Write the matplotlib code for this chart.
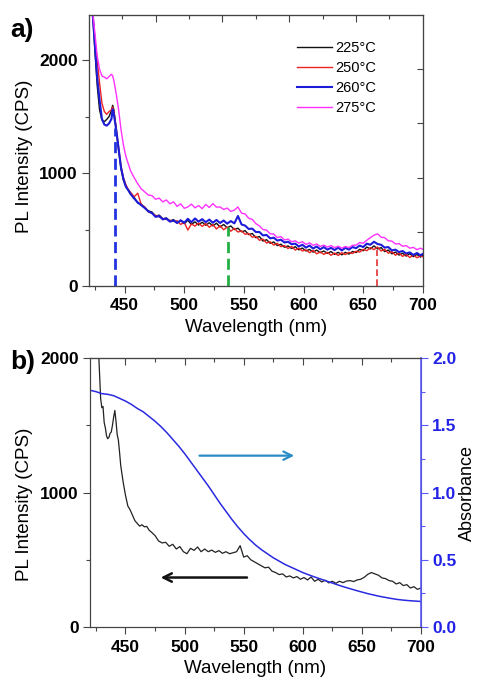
import matplotlib
matplotlib.use("Agg")
import matplotlib.pyplot as plt
from matplotlib.ticker import FixedLocator, FormatStrFormatter

plt.rcParams['font.family'] = ['Liberation Sans', 'DejaVu Sans']

# ---------------- Panel a data ----------------
wl_a = [423, 425, 427, 429, 431, 433, 435, 437, 439, 440,
        441, 443, 445, 447, 449, 451, 453, 455, 458, 461,
        464, 467, 470,
        473, 476, 479, 482, 485, 488, 491, 494, 497, 500,
        503, 506, 509, 512, 515, 518, 521, 524, 527, 530,
        533, 536, 539, 542, 545, 548, 551, 554, 557, 560,
        563, 566, 569, 572, 575, 578, 581, 584, 587, 590,
        593, 596, 599, 602, 605, 608, 611, 614, 617, 620,
        623, 626, 629, 632, 635, 638, 641, 644, 647, 650,
        653, 656, 659, 662, 665, 668, 671, 674, 677, 680,
        683, 686, 689, 692, 695, 698, 700]

pl_225 = [2450, 2100, 1780, 1560, 1470, 1455, 1475, 1500, 1555, 1600,
          1560, 1380, 1200, 1035, 935, 885, 850, 815, 785, 735,
          725, 690, 665,
          655, 618, 628, 595, 602, 575, 588, 558, 580, 552,
          582, 545, 568, 540, 565, 538, 560, 532, 556, 522,
          545, 515, 532, 500, 512, 480, 490, 455, 465, 428,
          438, 398, 410, 378, 390, 358, 370, 343, 355, 332,
          348, 320, 336, 310, 324, 300, 318, 295, 310, 288,
          305, 280, 298, 276, 298, 282, 306, 296, 325, 312,
          345, 328, 355, 328, 340, 305, 318, 285, 300, 274,
          290, 265, 286, 260, 280, 256, 275]

pl_250 = [2450, 2200, 2000, 1800, 1620, 1545, 1520, 1545, 1560, 1585,
          1545, 1400, 1225, 1060, 960, 900, 855, 830, 790, 822,
          720, 700, 655,
          645, 625, 612, 598, 590, 582, 572, 578, 545, 565,
          495, 550, 530, 558, 528, 552, 520, 545, 505, 535,
          498, 522, 485, 510, 478, 488, 458, 465, 432, 440,
          405, 415, 380, 392, 362, 378, 348, 358, 332, 350,
          318, 335, 310, 320, 295, 315, 285, 302, 280, 298,
          272, 292, 270, 295, 278, 298, 288, 308, 300, 325,
          312, 340, 322, 345, 310, 325, 290, 305, 272, 292,
          262, 280, 252, 275, 250, 268, 258]

pl_260 = [2450, 2150, 1850, 1650, 1480, 1430, 1420, 1440, 1480, 1565,
          1520, 1380, 1215, 1050, 950, 880, 850, 815, 775, 740,
          715, 690, 660,
          645, 612, 620, 590, 598, 570, 580, 558, 582, 560,
          595, 565, 598, 570, 592, 565, 588, 560, 585, 558,
          580, 552, 575, 555, 620, 545, 535, 505, 508, 478,
          478, 448, 452, 422, 428, 402, 410, 385, 392, 370,
          375, 350, 365, 340, 358, 332, 350, 325, 345, 322,
          338, 318, 340, 315, 338, 322, 345, 335, 358, 345,
          375, 365, 392, 372, 365, 340, 345, 315, 322, 300,
          310, 288, 298, 275, 292, 272, 285]

pl_275 = [2450, 2250, 2040, 1920, 1860, 1850, 1835, 1855, 1875, 1860,
          1820, 1700, 1560, 1385, 1250, 1150, 1085, 1020, 960, 905,
          860, 832, 805,
          800, 768, 778, 745, 762, 728, 745, 705, 728, 688,
          700, 725, 692, 712, 685, 722, 695, 730, 698, 700,
          678, 690, 660, 672, 700, 645, 638, 600, 590, 552,
          532, 500, 495, 462, 460, 428, 438, 408, 415, 392,
          400, 380, 392, 368, 382, 360, 372, 350, 362, 345,
          358, 340, 352, 335, 350, 340, 360, 362, 385, 378,
          405, 428, 450, 462, 432, 428, 400, 398, 372, 375,
          352, 358, 335, 342, 322, 335, 325]

labels_a = ['225°C', '250°C', '260°C', '275°C']
series_a = [pl_225, pl_250, pl_260, pl_275]
colors_a = ['#111111', '#ee2222', '#1c1cd8', '#ff30ff']
widths_a = [1.0, 1.0, 1.5, 1.0]

peak_wl = [441.6, 536.8, 661.5]
peak_top = [1400, 525, 318]
peak_colors = ['#2233e0', '#22b044', '#e03333']
peak_widths = [2.0, 2.0, 1.2]

# ---------------- Panel b data ----------------
wl_b = [427, 428, 429, 430, 431, 432, 433, 434, 435, 436,
        437, 438, 439, 440, 441, 442, 443, 444, 445, 446,
        447, 448, 449, 450, 452, 454, 456, 458, 460, 462,
        464, 466, 468, 470, 472,
        475, 478, 481, 484, 487, 490, 493, 496, 499, 502,
        505, 508, 511, 514, 517, 520, 523, 526, 529, 532,
        535, 538, 541, 544, 547, 550, 553, 556, 559, 562,
        565, 568, 571, 574, 577, 580, 583, 586, 589, 592,
        595, 598, 601, 604, 607, 610, 613, 616, 619, 622,
        625, 628, 631, 634, 637, 640, 643, 646, 649, 652,
        655, 658, 661, 664, 667, 670, 673, 676, 679, 682,
        685, 688, 691, 694, 697, 700]

pl_b = [2100, 1900, 1700, 1630, 1640, 1520, 1480, 1420, 1400, 1410,
        1440, 1450, 1500, 1560, 1610, 1530, 1430, 1390, 1300, 1200,
        1140, 1080, 1030, 980, 900, 870, 830, 790, 770, 750,
        760, 745, 748, 720, 705,
        680, 640, 625, 630, 600, 615, 580, 598, 560, 545,
        585, 570, 595, 560, 580, 560, 572, 555, 568, 548,
        560, 545, 552, 560, 605, 520, 530, 500, 485, 470,
        455, 440, 445, 415, 405, 390, 395, 372, 380, 365,
        375, 355, 368, 350, 372, 340, 355, 335, 348, 328,
        340, 325, 340, 330, 342, 345, 338, 350, 355, 370,
        392, 405, 395, 385, 365, 360, 345, 340, 320, 330,
        308, 315, 290, 300, 280, 290]

wl_abs = [420, 425, 430, 435, 440, 445, 450, 455, 460, 465,
          470, 475, 480, 485, 490, 495, 500, 505, 510, 515,
          520, 525, 530, 535, 540, 545, 550, 555, 560, 565,
          570, 575, 580, 585, 590, 595, 600, 605, 610, 615,
          620, 625, 630, 635, 640, 645, 650, 655, 660, 665,
          670, 675, 680, 685, 690, 695, 700]

absorb = [1.76, 1.75, 1.735, 1.73, 1.72, 1.70, 1.68, 1.655, 1.625, 1.60,
          1.565, 1.53, 1.49, 1.445, 1.395, 1.345, 1.29, 1.23, 1.17, 1.11,
          1.05, 0.985, 0.92, 0.86, 0.80, 0.745, 0.695, 0.65, 0.61, 0.575,
          0.545, 0.515, 0.49, 0.465, 0.445, 0.425, 0.405, 0.388, 0.372, 0.357,
          0.342, 0.327, 0.312, 0.298, 0.285, 0.272, 0.26, 0.248, 0.238, 0.228,
          0.22, 0.212, 0.205, 0.20, 0.196, 0.193, 0.19]

arrow_abs = [(512.6, 1.274), (592.7, 1.274)]   # start, end (right axis)
arrow_pl = [(552.8, 368), (479.8, 368)]        # start, end (left axis)

# ---------------- Styling helpers ----------------
TICK_FS = 12.5
LABEL_FS = 13.5
SPINE_C = '#444444'
BLUE_AX = '#2323e8'

fig = plt.figure(figsize=(4.8, 6.87), dpi=100)


def style_spines(a):
    for s in a.spines.values():
        s.set_color(SPINE_C)
        s.set_linewidth(0.8)


# ---------------- Panel a ----------------
ax = fig.add_axes([0.185, 0.5837, 0.696, 0.3945])
for y, lab, c, w in zip(series_a, labels_a, colors_a, widths_a):
    ax.plot(wl_a, y, color=c, lw=w, label=lab)
for x, top, c, w in zip(peak_wl, peak_top, peak_colors, peak_widths):
    ax.plot([x, x], [0, top], color=c, lw=w, ls=(0, (4, 2)))

ax.set_xlim(420, 700)
ax.set_ylim(0, 2400)
ax.xaxis.set_major_locator(FixedLocator([450, 500, 550, 600, 650, 700]))
ax.xaxis.set_minor_locator(FixedLocator([425, 475, 525, 575, 625, 675]))
ax.yaxis.set_major_locator(FixedLocator([0, 1000, 2000]))
ax.yaxis.set_minor_locator(FixedLocator([500, 1500]))
ax.tick_params(axis='both', which='major', direction='out', length=5, width=0.8,
               color=SPINE_C, labelsize=TICK_FS, pad=3)
ax.tick_params(axis='both', which='minor', direction='out', length=3, width=0.8,
               color=SPINE_C)
ax.tick_params(axis='x', which='major', pad=4)
for t in ax.get_xticklabels() + ax.get_yticklabels():
    t.set_fontweight('bold')
ax.set_xlabel('Wavelength (nm)', fontsize=LABEL_FS, labelpad=4)
ax.set_ylabel('PL Intensity (CPS)', fontsize=LABEL_FS)
ax.yaxis.set_label_coords(-0.168, 0.48)
style_spines(ax)

leg = ax.legend(loc='upper left', bbox_to_anchor=(0.623, 0.905), frameon=False,
                fontsize=10.5, handlelength=2.4, handletextpad=0.2,
                labelspacing=0.42, borderpad=0, borderaxespad=0)

ax_t = ax.twiny()
ax_t.set_xlim(0, 10)
ax_t.xaxis.set_major_locator(FixedLocator([2, 4, 6, 8]))
ax_t.xaxis.set_minor_locator(FixedLocator([1, 3, 5, 7, 9]))
ax_t.tick_params(axis='x', which='major', direction='in', length=5, width=0.8,
                 color=SPINE_C, labeltop=False)
ax_t.tick_params(axis='x', which='minor', direction='in', length=3, width=0.8,
                 color=SPINE_C)
style_spines(ax_t)

ax_r = ax.twinx()
ax_r.set_ylim(0, 2500)
ax_r.yaxis.set_major_locator(FixedLocator([500, 1000, 1500, 2000]))
ax_r.tick_params(axis='y', which='major', direction='in', length=4, width=0.8,
                 color=SPINE_C, labelright=False)
style_spines(ax_r)

fig.text(10 / 480, 1 - 30 / 687, 'a)', fontsize=19, fontweight='bold',
         ha='left', va='center')

# ---------------- Panel b ----------------
bx = fig.add_axes([0.1875, 0.0873, 0.6896, 0.3916])
bx.plot(wl_b, pl_b, color='#222222', lw=0.9)
bx.set_xlim(420, 700)
bx.set_ylim(0, 2000)
bx.xaxis.set_major_locator(FixedLocator([450, 500, 550, 600, 650, 700]))
bx.xaxis.set_minor_locator(FixedLocator([425, 475, 525, 575, 625, 675]))
bx.yaxis.set_major_locator(FixedLocator([0, 1000, 2000]))
bx.yaxis.set_minor_locator(FixedLocator([500, 1500]))
bx.tick_params(axis='both', which='major', direction='out', length=5, width=0.8,
               color=SPINE_C, labelsize=TICK_FS, pad=3)
bx.tick_params(axis='both', which='minor', direction='out', length=3, width=0.8,
               color=SPINE_C)
bx.tick_params(axis='x', which='major', pad=4)
for t in bx.get_xticklabels() + bx.get_yticklabels():
    t.set_fontweight('bold')
bx.set_xlabel('Wavelength (nm)', fontsize=LABEL_FS, labelpad=4)
bx.set_ylabel('PL Intensity (CPS)', fontsize=LABEL_FS)
bx.yaxis.set_label_coords(-0.172, 0.455)
style_spines(bx)

bt = bx.secondary_xaxis('top')
bt.xaxis.set_major_locator(FixedLocator([450, 500, 550, 600, 650]))
bt.xaxis.set_minor_locator(FixedLocator([475, 525, 575, 625, 675]))
bt.tick_params(axis='x', which='major', direction='in', length=5, width=0.8,
               color=SPINE_C, labeltop=False)
bt.tick_params(axis='x', which='minor', direction='in', length=3, width=0.8,
               color=SPINE_C)
bt.spines['top'].set_color(SPINE_C)
bt.spines['top'].set_linewidth(0.8)

bx2 = bx.twinx()
bx2.plot(wl_abs, absorb, color='#2a2ae0', lw=1.1)
bx2.set_ylim(0, 2.0)
bx2.yaxis.set_major_locator(FixedLocator([0.0, 0.5, 1.0, 1.5, 2.0]))
bx2.yaxis.set_minor_locator(FixedLocator([0.25, 0.75, 1.25, 1.75]))
bx2.yaxis.set_major_formatter(FormatStrFormatter('%.1f'))
bx2.tick_params(axis='y', which='major', direction='out', length=5, width=0.8,
                color='#5a5aff', labelcolor=BLUE_AX, labelsize=TICK_FS, pad=3)
bx2.tick_params(axis='y', which='minor', direction='out', length=3, width=0.8,
                color='#5a5aff')
for t in bx2.get_yticklabels():
    t.set_fontweight('bold')
style_spines(bx2)
bx2.spines['right'].set_color('#5a5aff')
bx2.spines['right'].set_linewidth(1.2)
bx2.set_ylabel('Absorbance', fontsize=13, labelpad=2)

bx2.annotate('', xy=arrow_abs[1], xytext=arrow_abs[0],
             arrowprops=dict(arrowstyle='->,head_length=0.6,head_width=0.3',
                             color='#2a8cc4', lw=1.6, shrinkA=0, shrinkB=0))
bx2.annotate('', xy=(arrow_pl[1][0], arrow_pl[1][1] / 1000.0),
             xytext=(arrow_pl[0][0], arrow_pl[0][1] / 1000.0),
             arrowprops=dict(arrowstyle='->,head_length=0.6,head_width=0.3',
                             color='#111111', lw=1.8, shrinkA=0, shrinkB=0))

fig.text(10 / 480, 1 - 362 / 687, 'b)', fontsize=19, fontweight='bold',
         ha='left', va='center')

fig.savefig('out.png', dpi=100)
